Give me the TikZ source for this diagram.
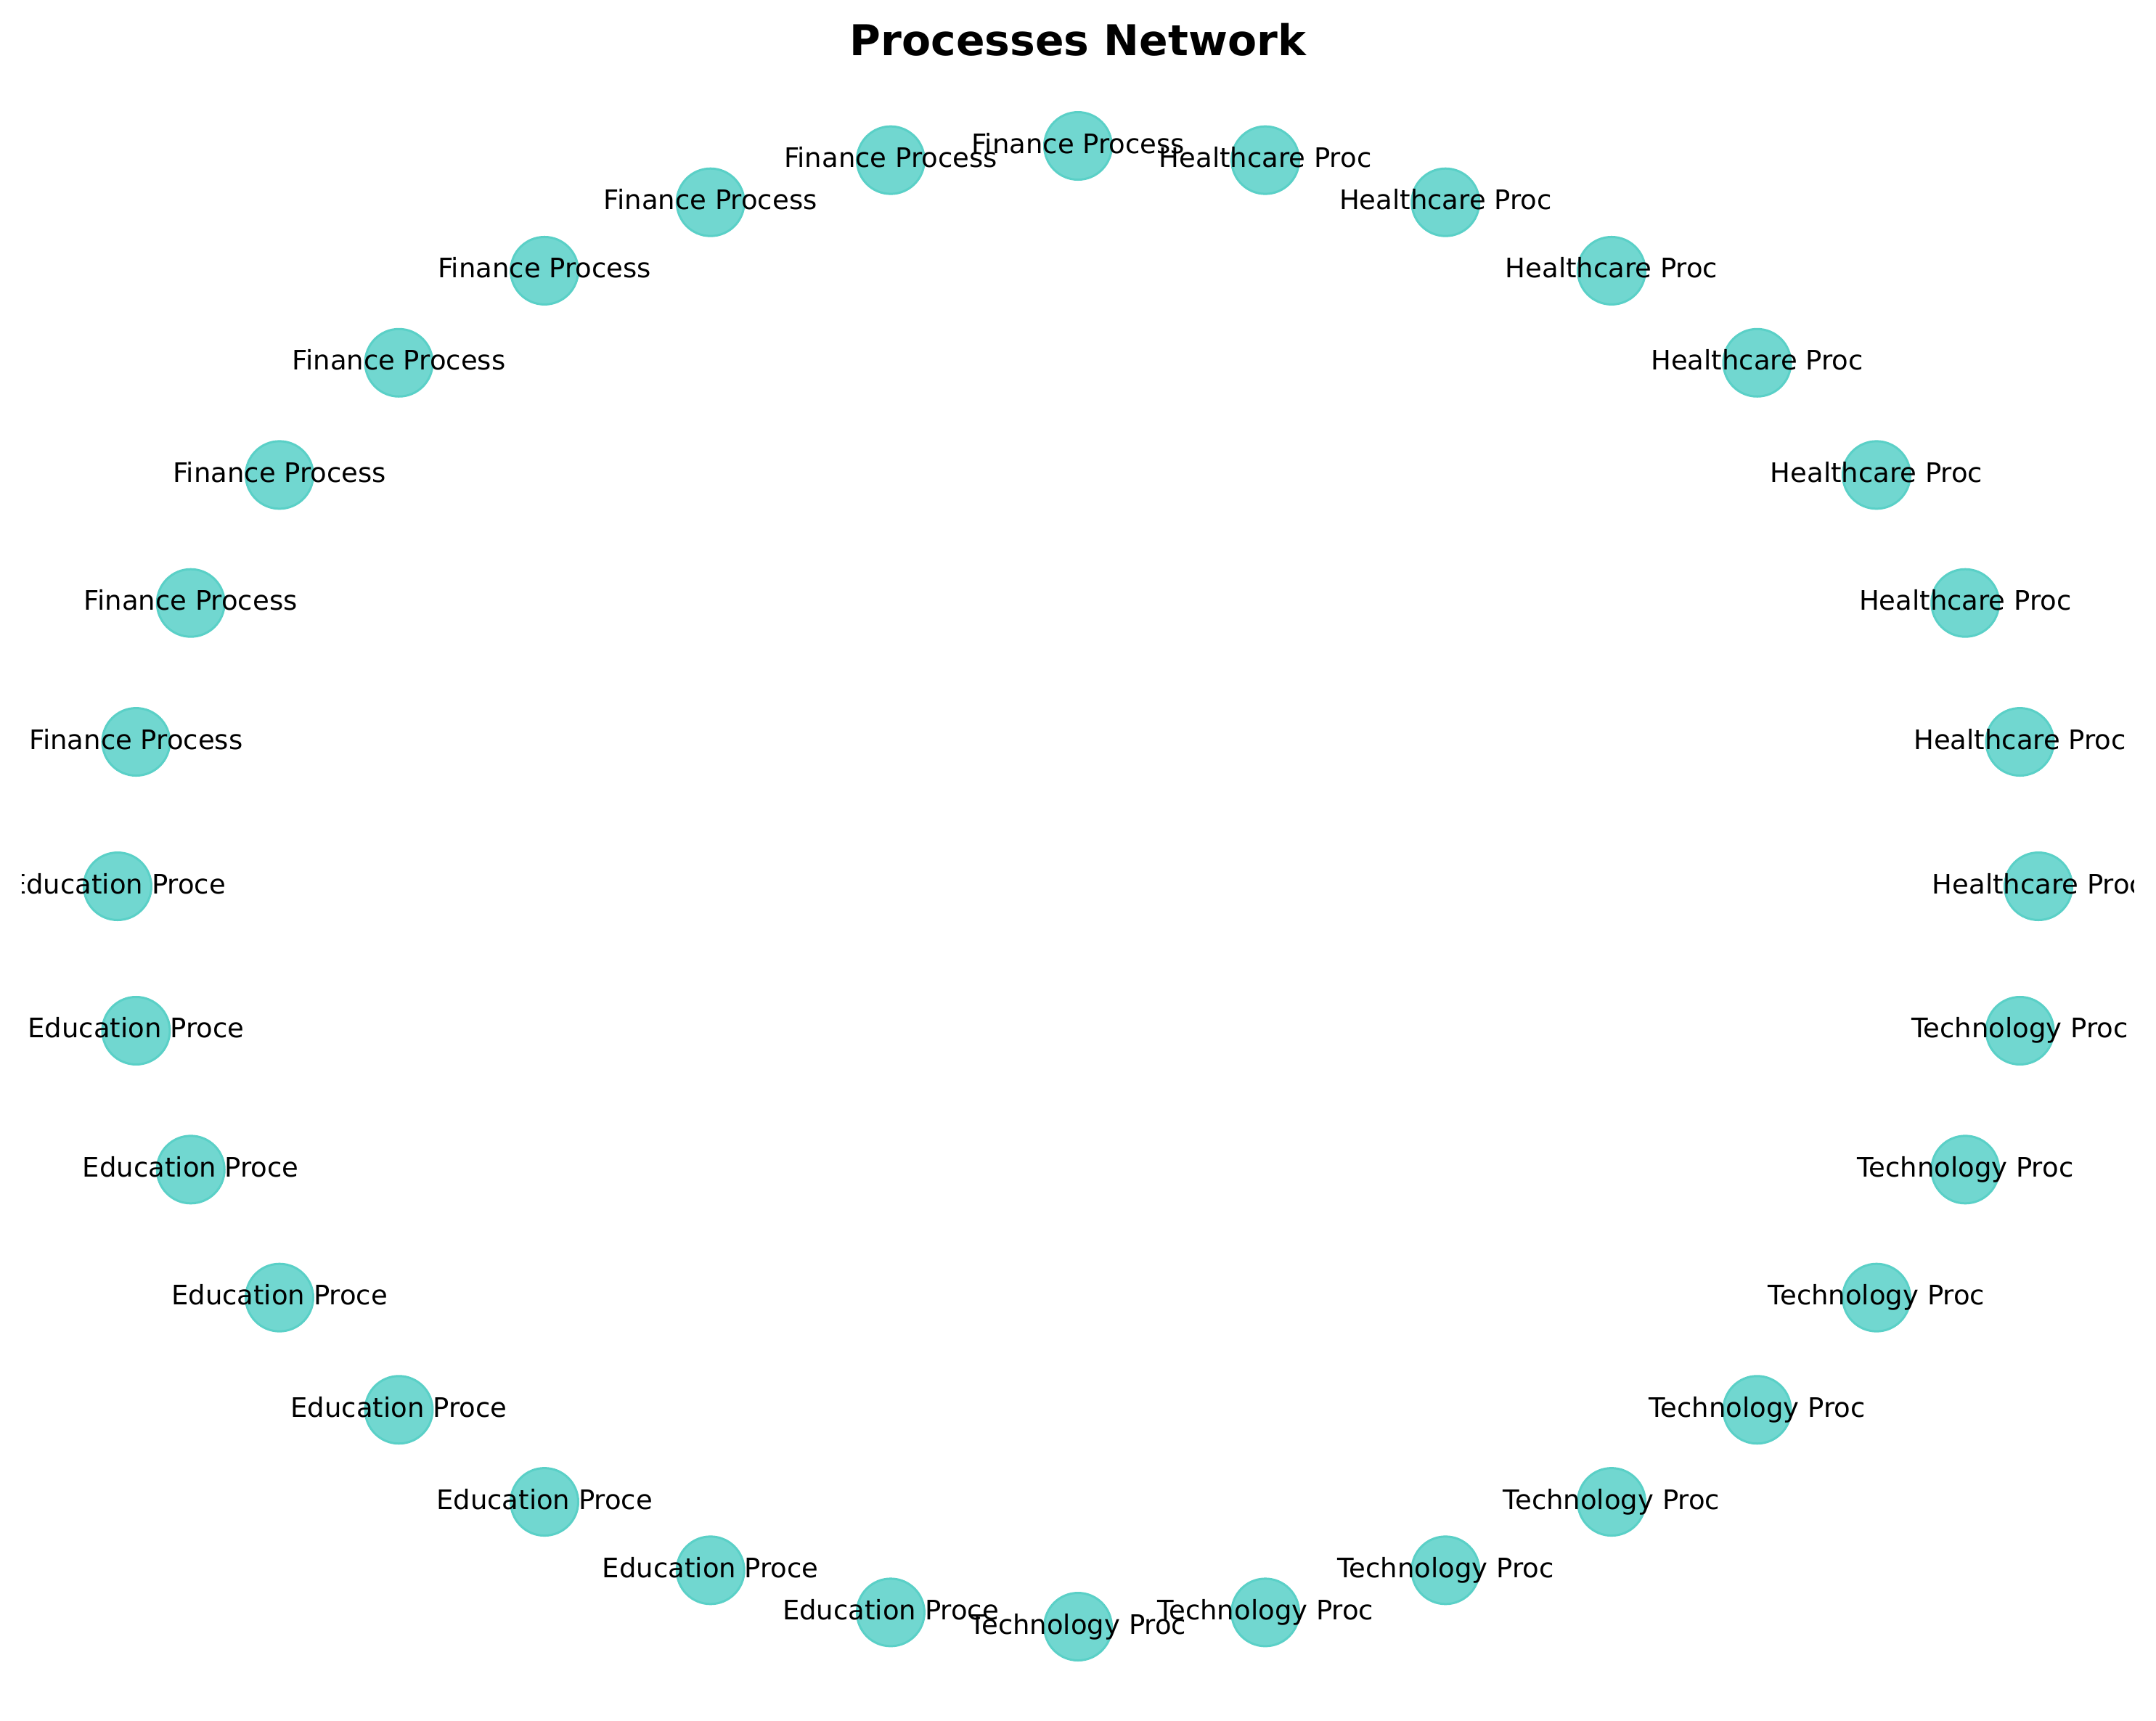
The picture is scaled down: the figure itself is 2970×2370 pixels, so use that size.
\documentclass[tikz,border=0pt]{standalone}
\usepackage{fontspec}
\setmainfont{DejaVu Sans}
\definecolor{nodefill}{HTML}{71D7D0}
\definecolor{nodeedge}{HTML}{5AD0C7}
\begin{document}
\begin{tikzpicture}[x=0.25pt,y=-0.25pt,
  proc/.style={circle, fill=nodefill, draw=nodeedge, line width=0.75pt, minimum size=23.25pt, inner sep=0pt},
  lbl/.style={font=\fontsize{9.25}{11}\selectfont, inner sep=0pt, anchor=base},
  ttl/.style={font=\fontsize{14.6}{17}\selectfont\bfseries, inner sep=0pt, anchor=base}]
\useasboundingbox (0,0) rectangle (2970,2370);
\fill[white] (0,0) rectangle (2970,2370);
\node[ttl] (title) at (1485,76) {Processes Network};
\begin{scope}
\clip (30,0) rectangle (2939,2370);
\foreach \i in {0,...,31} {
  \node[proc] (n\i) at ({1485+1323*cos(\i*11.25)},{1221-1020*sin(\i*11.25)}) {};
}
\foreach \i in {0,...,7} {\node[lbl] (l\i) at ([yshift=-2.5pt]n\i.center) {Healthcare Proc};}
\foreach \i in {8,...,15} {\node[lbl] (l\i) at ([yshift=-2.5pt]n\i.center) {Finance Process};}
\foreach \i in {16,...,23} {\node[lbl] (l\i) at ([yshift=-2.5pt]n\i.center) {Education Proce};}
\foreach \i in {24,...,31} {\node[lbl] (l\i) at ([yshift=-2.5pt]n\i.center) {Technology Proc};}
\end{scope}
\end{tikzpicture}
\end{document}
